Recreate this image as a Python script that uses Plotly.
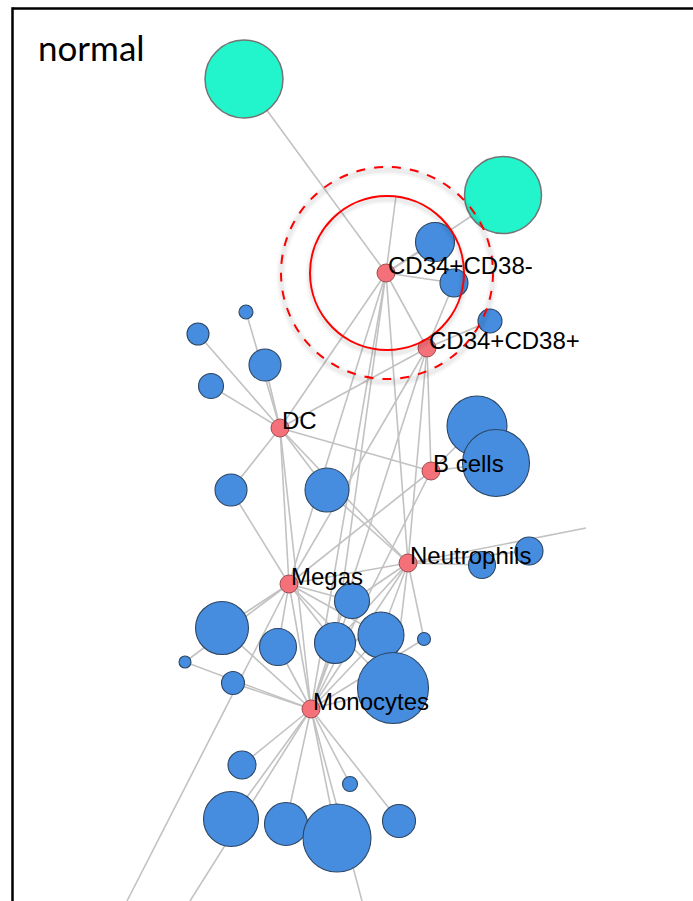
import plotly.graph_objects as go

# ---------------- data ----------------
title_text = "normal"

hub_names = ["CD34+CD38-", "CD34+CD38+", "DC", "B cells", "Neutrophils", "Megas", "Monocytes"]
hub_x = [386, 427, 280, 431, 408, 289, 311]
hub_y = [273, 348, 428, 471, 563, 584, 709]
hub_size = [18, 18, 18, 18, 18, 18, 18]

teal_names = ["t1", "t2"]
teal_x = [244, 503]
teal_y = [79, 195]
teal_size = [78, 77]

blue_names = ["b1", "b2", "b3", "b4", "b5", "b6", "b7", "b8", "b9", "b10",
              "b11", "b12", "b13", "b14", "b15", "b16", "b17", "b18", "b19", "b20",
              "b21", "b22", "b23", "b24", "b25", "b26", "b27", "b28"]
blue_x = [435, 454, 490, 246, 198, 265, 211, 477, 496, 231,
          327, 529, 482, 352, 222, 278, 335, 381, 424, 185,
          233, 393, 242, 350, 231, 286, 337, 399]
blue_y = [242, 283, 321, 312, 334, 365, 386, 426, 463, 490,
          490, 551, 565, 601, 628, 647, 643, 635, 639, 662,
          683, 688, 765, 784, 819, 824, 838, 821]
blue_size = [39, 28, 24, 14, 22, 32, 25, 60, 67, 32,
             44, 28, 27, 35, 53, 37, 41, 46, 13, 12,
             23, 71, 28, 15, 55, 43, 68, 33]

# endpoints of edges whose partner node lies outside the visible frame
ghost_names = ["g_top", "g_right", "g_bl", "g_b2", "g_b3"]
ghost_x = [396, 586, 127, 190, 362]
ghost_y = [196, 528, 901, 901, 901]

edges = [
    ("t1", "CD34+CD38-"), ("t2", "CD34+CD38-"), ("b1", "CD34+CD38-"), ("b2", "CD34+CD38-"),
    ("b2", "CD34+CD38+"), ("b3", "CD34+CD38+"), ("g_top", "CD34+CD38-"),
    ("CD34+CD38-", "CD34+CD38+"), ("CD34+CD38-", "DC"), ("CD34+CD38-", "Neutrophils"),
    ("CD34+CD38-", "Megas"), ("CD34+CD38-", "Monocytes"), ("CD34+CD38-", "b17"),
    ("CD34+CD38+", "DC"), ("CD34+CD38+", "Megas"), ("CD34+CD38+", "Monocytes"),
    ("CD34+CD38+", "Neutrophils"), ("CD34+CD38+", "B cells"),
    ("DC", "b4"), ("DC", "b5"), ("DC", "b6"), ("DC", "b7"), ("DC", "b10"), ("DC", "b11"),
    ("DC", "B cells"), ("DC", "Megas"), ("DC", "Monocytes"), ("DC", "Neutrophils"),
    ("B cells", "b8"), ("B cells", "b9"), ("B cells", "Megas"), ("B cells", "Monocytes"),
    ("Neutrophils", "b12"), ("Neutrophils", "b13"), ("Neutrophils", "g_right"),
    ("Neutrophils", "Megas"), ("Neutrophils", "Monocytes"), ("Neutrophils", "b14"),
    ("Neutrophils", "b17"), ("Neutrophils", "b18"), ("Neutrophils", "b19"),
    ("Neutrophils", "b22"), ("Neutrophils", "b11"),
    ("Megas", "b10"), ("Megas", "b14"), ("Megas", "b15"), ("Megas", "b16"), ("Megas", "b17"),
    ("Megas", "b18"), ("Megas", "b20"), ("Megas", "b22"), ("Megas", "Monocytes"), ("Megas", "g_bl"),
    ("Monocytes", "b14"), ("Monocytes", "b15"), ("Monocytes", "b16"), ("Monocytes", "b17"),
    ("Monocytes", "b18"), ("Monocytes", "b19"), ("Monocytes", "b20"), ("Monocytes", "b21"),
    ("Monocytes", "b22"), ("Monocytes", "b23"), ("Monocytes", "b24"), ("Monocytes", "b25"),
    ("Monocytes", "b26"), ("Monocytes", "b27"), ("Monocytes", "b28"),
    ("Monocytes", "g_b2"), ("Monocytes", "g_b3"),
]

circle_radii = [77, 106]   # solid, dashed rings around CD34+CD38-

# ---------------- figure ----------------
pos = {}
for names, xs, ys in [(hub_names, hub_x, hub_y), (teal_names, teal_x, teal_y),
                      (blue_names, blue_x, blue_y), (ghost_names, ghost_x, ghost_y)]:
    for n, x, y in zip(names, xs, ys):
        pos[n] = (x, y)

ex, ey = [], []
for a, b in edges:
    ex += [pos[a][0], pos[b][0], None]
    ey += [pos[a][1], pos[b][1], None]

fig = go.Figure()
fig.add_trace(go.Scatter(x=ex, y=ey, mode="lines",
                         line=dict(color="#c2c2c2", width=1.6), hoverinfo="skip"))
fig.add_trace(go.Scatter(x=teal_x, y=teal_y, mode="markers",
                         marker=dict(size=teal_size, color="#22f5cc", opacity=1,
                                     line=dict(color="#747474", width=1.5)),
                         text=teal_names, hoverinfo="text"))
fig.add_trace(go.Scatter(x=blue_x, y=blue_y, mode="markers",
                         marker=dict(size=blue_size, color="#468ddf", opacity=1,
                                     line=dict(color="#2d4663", width=1.1)),
                         text=blue_names, hoverinfo="text"))
fig.add_trace(go.Scatter(x=hub_x, y=hub_y, mode="markers",
                         marker=dict(size=hub_size, color="#f4717a", opacity=1,
                                     line=dict(color="#a04a50", width=1)),
                         text=hub_names, hoverinfo="text"))

for n, x, y in zip(hub_names, hub_x, hub_y):
    fig.add_annotation(x=x, y=y - 8, text=n, showarrow=False, xanchor="left",
                       yanchor="middle", font=dict(family="Liberation Sans, Arial", size=24, color="black"))

fig.add_annotation(x=36, y=47, text=title_text, showarrow=False, xanchor="left", yanchor="middle",
                   xref="x", yref="y", font=dict(family="Lato", size=35, color="black"))

cx, cy = hub_x[0] + 1, hub_y[0]
r_solid, r_dash = circle_radii
# soft drop shadow
for r in (r_solid, r_dash):
    for w, a in [(9, 0.03), (5, 0.045)]:
        fig.add_shape(type="circle", xref="x", yref="y", x0=cx - r, x1=cx + r,
                      y0=cy - r + 3, y1=cy + r + 3,
                      line=dict(color=f"rgba(0,0,0,{a})", width=w))
fig.add_shape(type="circle", xref="x", yref="y", x0=cx - r_solid, x1=cx + r_solid,
              y0=cy - r_solid, y1=cy + r_solid, line=dict(color="#ff0000", width=2))
fig.add_shape(type="circle", xref="x", yref="y", x0=cx - r_dash, x1=cx + r_dash,
              y0=cy - r_dash, y1=cy + r_dash, line=dict(color="#ff0000", width=2, dash="dash"))

# frame (only top and left edges fall inside the picture)
fig.add_shape(type="line", xref="x", yref="y", x0=12.5, x1=900, y0=8.5, y1=8.5,
              line=dict(color="black", width=2.5))
fig.add_shape(type="line", xref="x", yref="y", x0=12.5, x1=12.5, y0=7.3, y1=1000,
              line=dict(color="black", width=2.5))

fig.update_layout(width=693, height=901, margin=dict(l=0, r=0, t=0, b=0),
                  paper_bgcolor="white", plot_bgcolor="white", showlegend=False,
                  xaxis=dict(range=[0, 693], visible=False, fixedrange=True),
                  yaxis=dict(range=[901, 0], visible=False, fixedrange=True))

fig.write_html("out.html", config={"displayModeBar": False},
               post_script="document.body.style.margin='0';document.body.style.overflow='hidden';")
